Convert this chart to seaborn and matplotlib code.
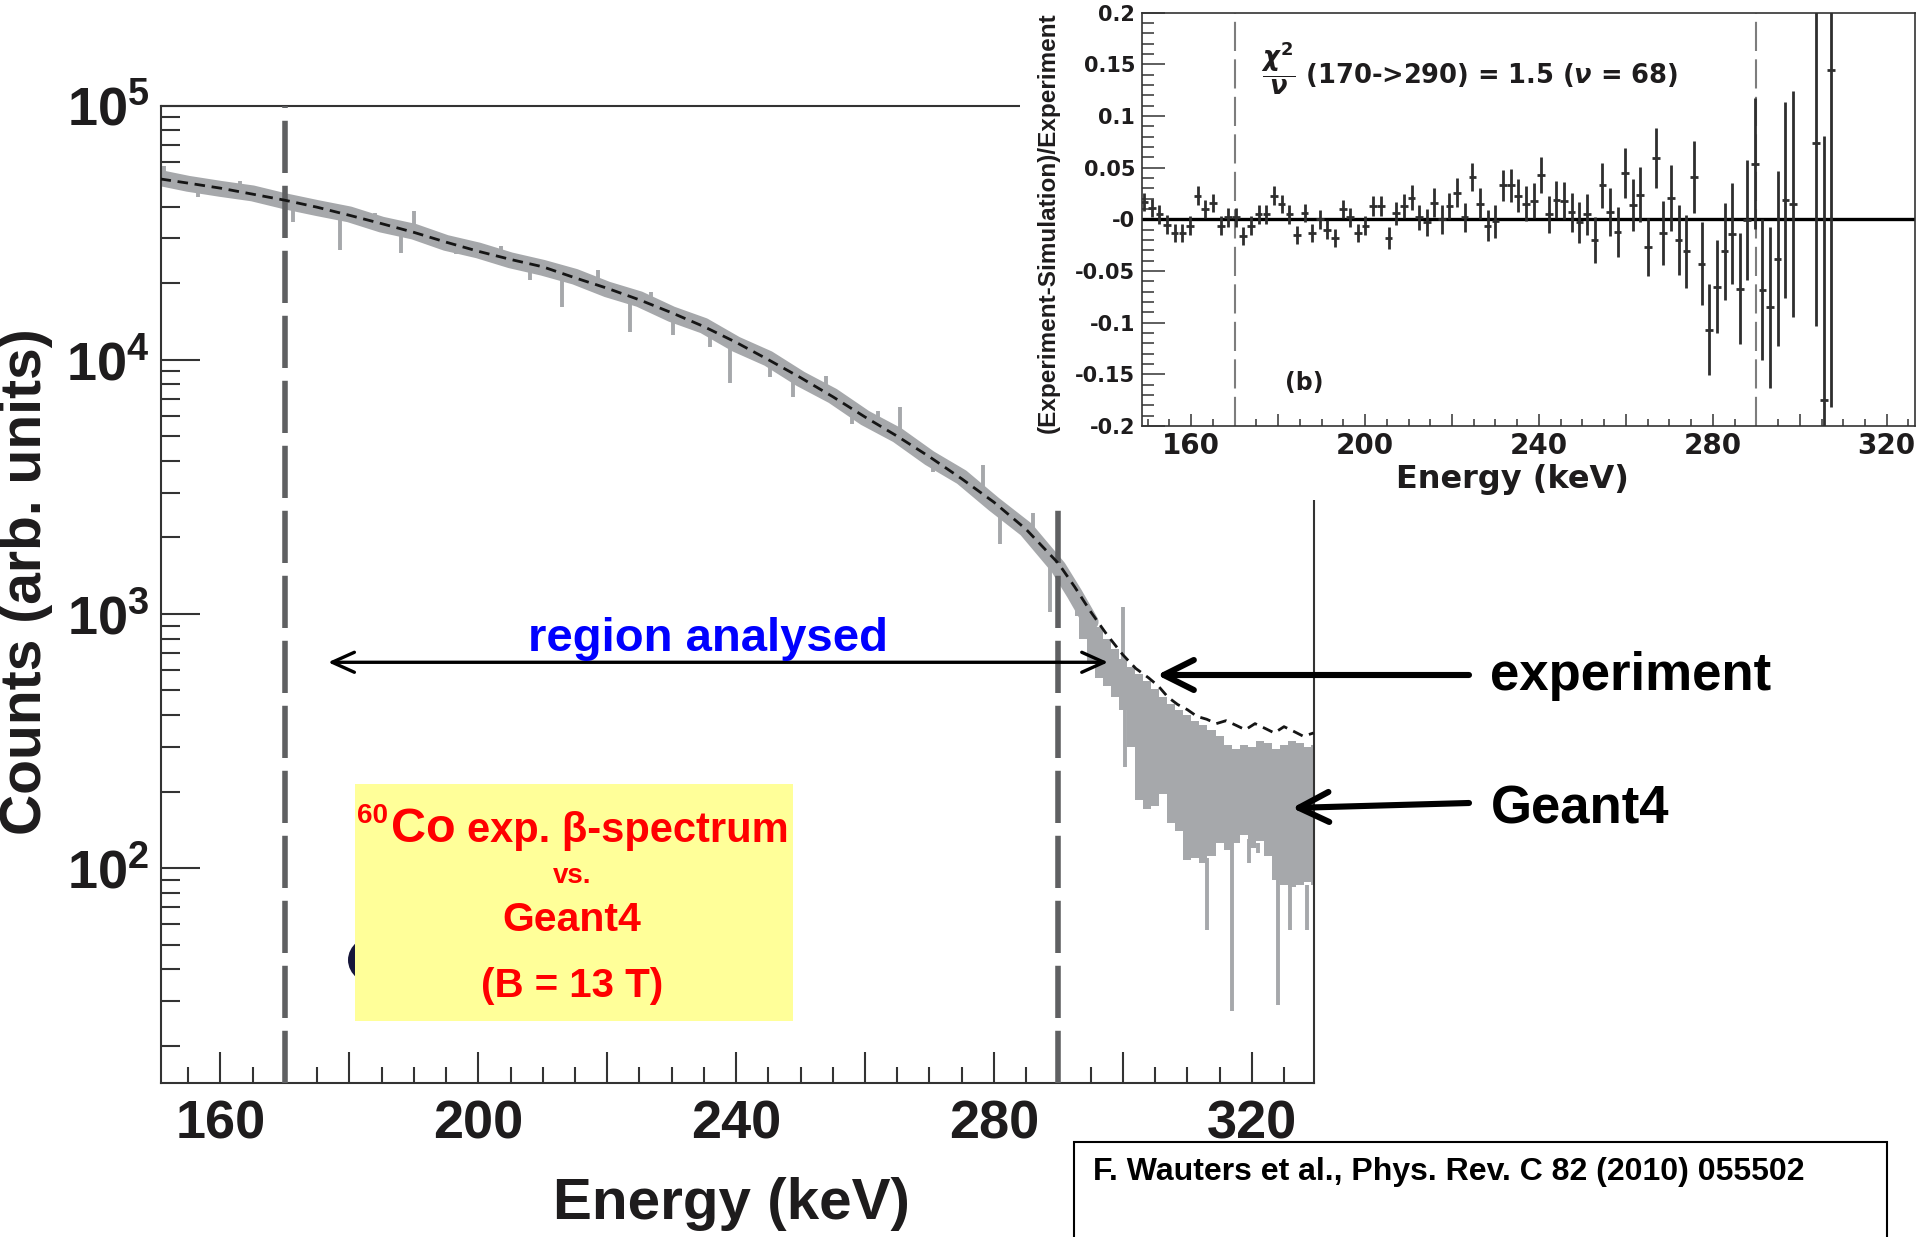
import numpy as np
import pandas as pd
import matplotlib
matplotlib.use("Agg")
import matplotlib.pyplot as plt
import seaborn as sns
from matplotlib import font_manager as fm
from matplotlib.ticker import (MultipleLocator, FixedLocator, FixedFormatter,
                               FuncFormatter, LogLocator, NullFormatter)
from matplotlib.patches import Rectangle, Ellipse, FancyArrowPatch

# ------------------------------------------------------------------ data
# experiment (black dashed) spectrum
exp_energy = [150.7, 155, 160, 165, 170, 175, 180, 185, 190, 195, 200, 205, 210,
              215, 220, 225, 230, 235, 240, 245, 250, 255, 260, 265, 270, 275,
              280, 285, 290, 292.5, 295, 297.5, 300, 302, 304, 305.5, 307, 308.5,
              310, 311.5, 313, 314.5, 316, 317.5, 319, 320.5, 322, 323.5, 325,
              326.5, 328, 329.6]
exp_counts = [51400, 49500, 47300, 44800, 42400, 39800, 37000, 34300, 31700, 29000,
              26700, 24800, 23200, 21000, 19100, 17200, 15300, 13500, 11700, 10000,
              8500, 7150, 5950, 5000, 4150, 3400, 2750, 2150, 1580, 1280, 1020, 830,
              690, 610, 560, 520, 470, 440, 420, 395, 385, 370, 380, 365, 350, 370,
              355, 340, 360, 345, 330, 340]

# Geant4 (grey) spectrum: main body
g4_energy = [150.7, 155, 160, 165, 170, 175, 180, 185, 190, 195, 200, 205, 210, 215,
             220, 225, 230, 235, 240, 245, 250, 255, 260, 265, 270, 275, 280, 285,
             290, 292.5, 295]
g4_counts = [51800, 49200, 47000, 45100, 42000, 39500, 37300, 34000, 31900, 28800,
             26900, 24600, 23000, 21200, 18900, 17300, 15100, 13600, 11500, 10100,
             8400, 7200, 5900, 5050, 4100, 3450, 2700, 2150, 1520, 1200, 930]
# Geant4 tail envelope
g4_tail_energy = [292.5, 293.75, 295, 296.25, 297.5, 298.75, 300, 301.25, 302.5,
                  303.75, 305, 306.25, 307.5, 308.75, 310, 311.25, 312.5, 313.75,
                  315, 316.25, 317.5, 318.75, 320, 321.25, 322.5, 323.75, 325,
                  326.25, 327.5, 328.75, 329.6]
g4_tail_high = [1240, 1120, 1000, 890, 800, 730, 665, 620, 580, 545, 505, 470, 440,
                420, 400, 380, 365, 350, 330, 305, 295, 305, 300, 315, 310, 295,
                305, 315, 310, 300, 305]
g4_tail_low = [980, 800, 640, 560, 520, 470, 420, 300, 185, 170, 175, 195, 150, 140,
               108, 110, 105, 112, 125, 118, 125, 135, 120, 128, 112, 90, 86, 84,
               86, 88, 86]
# Geant4 fluctuation spikes
g4_spike_energy = [151.2, 156.5, 163.0, 171.2, 178.6, 184.0, 188.0, 190.0, 196.5,
                   203.5, 208.0, 213.0, 218.5, 223.5, 226.8, 230.2, 236.0, 239.0,
                   245.3, 248.9, 254.0, 258.0, 262.0, 265.4, 270.5, 278.3, 280.9,
                   286.0, 288.7, 300.0, 300.3, 313.0, 317.0, 319.5, 321.0, 324.1,
                   326.0, 328.6]
g4_spike_from = [51000, 48500, 46000, 42000, 38000, 35000, 33000, 32000, 28500,
                 25000, 23500, 22000, 19800, 18000, 16500, 15000, 13300, 12000,
                 10000, 9000, 7500, 6500, 5500, 5000, 4300, 2950, 2600, 2000, 1700,
                 650, 420, 110, 125, 130, 125, 115, 88, 86]
g4_spike_to = [58000, 43500, 50500, 34900, 27000, 37800, 26200, 38500, 26000,
               28000, 20500, 16100, 22500, 12900, 18500, 12500, 11200, 8070, 8550,
               7150, 8600, 5600, 6300, 6510, 3600, 3850, 1890, 2500, 1016, 1065,
               250, 57, 27.5, 105, 115, 29, 57, 57]

region_limits = [170, 290]

# residuals (inset)
res_energy = [149.2, 151.0, 152.7, 154.5, 156.2, 158.0, 159.7, 161.5, 163.2, 165.0,
              166.8, 168.5, 170.3, 172.0, 173.8, 175.5, 177.3, 179.1, 180.8, 182.6,
              184.3, 186.1, 187.8, 189.6, 191.3, 193.1, 194.9, 196.6, 198.4, 200.1,
              201.9, 203.6, 205.4, 207.1, 208.9, 210.7, 212.4, 214.2, 215.9, 217.7,
              219.4, 221.2, 222.9, 224.7, 226.5, 228.2, 230.0, 231.7, 233.5, 235.2,
              237.0, 238.8, 240.5, 242.3, 244.0, 245.8, 247.5, 249.3, 251.0, 252.8,
              254.6, 256.3, 258.1, 259.8, 261.6, 263.3, 265.1, 266.9, 268.6, 270.4,
              272.1, 273.9, 275.6, 277.4, 279.1, 280.9, 282.7, 284.4, 286.2, 287.9,
              289.7, 291.4, 293.2, 294.9, 296.7, 298.5, 303.7, 305.5, 307.2]
res_value = [0.017, 0.011, 0.005, -0.005, -0.013, -0.013, -0.006, 0.023, 0.010, 0.016,
             -0.006, 0.002, 0.002, -0.016, -0.006, 0.005, 0.005, 0.023, 0.015, 0.005,
             -0.015, 0.006, -0.013, 0.000, -0.010, -0.018, 0.010, 0.002, -0.013, -0.006,
             0.013, 0.013, -0.018, 0.006, 0.013, 0.021, 0.002, -0.003, 0.016, 0.000,
             0.013, 0.026, 0.002, 0.041, 0.015, -0.006, -0.002, 0.033, 0.033, 0.023,
             0.015, 0.018, 0.043, 0.005, 0.019, 0.018, 0.007, -0.003, 0.005, -0.020,
             0.033, 0.007, -0.012, 0.045, 0.014, 0.024, -0.027, 0.059, -0.013, 0.021,
             -0.020, -0.031, 0.041, -0.043, -0.107, -0.065, -0.031, -0.014, -0.067,
             -0.001, 0.054, -0.068, -0.085, -0.038, 0.019, 0.015, 0.074, -0.175, 0.145]
res_error = [0.009, 0.009, 0.009, 0.009, 0.009, 0.009, 0.009, 0.009,
             0.009, 0.009, 0.009, 0.009, 0.009, 0.009, 0.009, 0.009, 0.009, 0.009,
             0.009, 0.009, 0.009, 0.009, 0.009, 0.009, 0.009, 0.009, 0.009, 0.009,
             0.009, 0.009, 0.010, 0.010, 0.011, 0.011, 0.012, 0.012, 0.012, 0.013,
             0.014, 0.014, 0.013, 0.014, 0.014, 0.014, 0.015, 0.015, 0.016, 0.015,
             0.016, 0.016, 0.017, 0.017, 0.017, 0.018, 0.018, 0.018, 0.019, 0.020,
             0.020, 0.022, 0.022, 0.023, 0.024, 0.024, 0.025, 0.027, 0.028, 0.029,
             0.031, 0.032, 0.034, 0.035, 0.035, 0.040, 0.044, 0.045, 0.047, 0.049,
             0.054, 0.058, 0.063, 0.068, 0.078, 0.085, 0.095, 0.109, 0.177, 0.256,
             0.327]
res_half_bin = 0.88

res_ytick_values = [-0.2, -0.15, -0.1, -0.05, 0.0, 0.05, 0.1, 0.15, 0.2]
res_ytick_labels = ["-0.2", "-0.15", "-0.1", "-0.05", "-0", "0.05", "0.1", "0.15", "0.2"]

citation = "F. Wauters et al., Phys. Rev. C 82 (2010) 055502"

# ------------------------------------------------------------------ style
sns.set_theme(style="white")
plt.rcParams["font.family"] = ["Liberation Sans", "DejaVu Sans"]
plt.rcParams["font.weight"] = "bold"
plt.rcParams["axes.labelweight"] = "bold"
plt.rcParams["mathtext.fontset"] = "custom"
plt.rcParams["mathtext.rm"] = "Liberation Sans:bold"
plt.rcParams["mathtext.bf"] = "Liberation Sans:bold"
plt.rcParams["mathtext.it"] = "Liberation Sans:bold"


def has_font(name):
    try:
        fm.findfont(fm.FontProperties(family=name), fallback_to_default=False)
        return True
    except Exception:
        return False


HAS_NARROW = has_font("Liberation Sans Narrow")

W, H = 1920, 1237


def fx(px):
    return px / W


def fy(py):
    return 1 - py / H


TXT = "#1e1c1d"
SPINE = "#333333"
GREY = "#a6a8ab"
VLINE = "#5f6062"

fig = plt.figure(figsize=(19.2, 12.37), dpi=100)
fig.patch.set_facecolor("white")

# ------------------------------------------------------------------ main axes
ax = fig.add_axes([0.0836, 0.1247, 0.6006, 0.79])
ax.set_facecolor("white")
ax.set_yscale("log")

g4_df = pd.DataFrame({"energy": g4_energy, "counts": g4_counts})
sns.lineplot(data=g4_df, x="energy", y="counts", ax=ax, color=GREY, linewidth=11.5,
             estimator=None, sort=False, legend=False)
ax.fill_between(g4_tail_energy, g4_tail_low, g4_tail_high, color=GREY, linewidth=0,
                step="mid")
ax.vlines(g4_spike_energy, g4_spike_from, g4_spike_to, color=GREY, linewidth=2.8)

for xv in region_limits:
    ax.axvline(xv, color=VLINE, linewidth=4, dashes=(9.4, 2.3), zorder=3)

exp_df = pd.DataFrame({"energy": exp_energy, "counts": exp_counts})
sns.lineplot(data=exp_df, x="energy", y="counts", ax=ax, color="#151515",
             linewidth=2.0, estimator=None, sort=False, legend=False, zorder=4)
ax.lines[-1].set_dashes((3.8, 2.4))

ax.set_xlim(150.7, 329.6)
ax.set_ylim(14.3, 1.0e5)

ax.xaxis.set_major_locator(MultipleLocator(20))
ax.xaxis.set_minor_locator(MultipleLocator(5))
ax.xaxis.set_major_formatter(FuncFormatter(
    lambda v, p: f"{int(round(v))}" if int(round(v)) % 40 == 0 else ""))
ax.yaxis.set_major_locator(LogLocator(base=10, numticks=10))
ax.yaxis.set_minor_locator(LogLocator(base=10, subs=np.arange(2, 10), numticks=30))
ax.yaxis.set_minor_formatter(NullFormatter())
ax.yaxis.set_major_formatter(FuncFormatter(
    lambda v, p: r"$\mathbf{10^{%d}}$" % int(round(np.log10(v)))))

ax.tick_params(axis="x", which="major", direction="in", length=22, width=1.5,
               color=SPINE, labelsize=39, pad=12, labelcolor=TXT,
               bottom=True, top=False)
ax.tick_params(axis="x", which="minor", direction="in", length=11.5, width=1.5,
               color=SPINE, bottom=True, top=False)
ax.tick_params(axis="y", which="major", direction="in", length=28, width=1.5,
               color=SPINE, labelsize=39, pad=8, labelcolor=TXT,
               left=True, right=False)
ax.tick_params(axis="y", which="minor", direction="in", length=14, width=1.5,
               color=SPINE, left=True, right=False)
for s in ax.spines.values():
    s.set_color(SPINE)
    s.set_linewidth(1.5)

ax.set_xlabel("Energy (keV)", fontsize=42, color=TXT, fontweight="bold")
ax.xaxis.set_label_coords((731 - 160.6) / 1153, (1082.7 - 1204) / 977.2)
ax.xaxis.label.set_verticalalignment("center")
ax.set_ylabel("Counts (arb. units)", fontsize=41, color=TXT, fontweight="bold")
ax.yaxis.set_label_coords((26 - 160.6) / 1153, (1082.7 - 582) / 977.2)
ax.yaxis.label.set_verticalalignment("center")

# region analysed arrow
ax.annotate("", xy=(176.7, 645), xytext=(297.7, 645),
            arrowprops=dict(arrowstyle="<->,head_length=0.8,head_width=0.36",
                            color="black", lw=2.4, mutation_scale=20,
                            shrinkA=0, shrinkB=0), zorder=6)
ax.text(235.6, 800, "region analysed", ha="center", va="center", color="#0000ff",
        fontsize=34, fontweight="bold", zorder=6)

# ------------------------------------------------------------------ overlays (figure level)
fig.add_artist(Rectangle((fx(1020), fy(500)), 1 - fx(1020), 500 / H,
                         transform=fig.transFigure, facecolor="white",
                         edgecolor="none", zorder=1))

fig.add_artist(Ellipse((fx(380), fy(960)), 64 / W, 52 / H, transform=fig.transFigure,
                       facecolor="#16163a", edgecolor="none", zorder=2))
fig.add_artist(Rectangle((fx(355), fy(1021)), (793 - 355) / W, (1021 - 784) / H,
                         transform=fig.transFigure, facecolor="#ffff99",
                         edgecolor="none", zorder=3))
RED = "#ff0000"
fig.text(fx(357), fy(823), "60", fontsize=20, color=RED, ha="left", va="baseline",
         fontweight="bold", zorder=4)
fig.text(fx(391), fy(842), "Co", fontsize=35, color=RED, ha="left", va="baseline",
         fontweight="bold", zorder=4)
fig.text(fx(467), fy(842), "exp. \u03b2-spectrum", fontsize=30, color=RED, ha="left",
         va="baseline", fontweight="bold", zorder=4)
fig.text(fx(572), fy(883), "vs.", fontsize=20, color=RED, ha="center", va="baseline",
         fontweight="bold", zorder=4)
fig.text(fx(572), fy(931), "Geant4", fontsize=29.5, color=RED, ha="center",
         va="baseline", fontweight="bold", zorder=4)
fig.text(fx(572), fy(997), "(B = 13 T)", fontsize=29, color=RED, ha="center",
         va="baseline", fontweight="bold", zorder=4)

# experiment / Geant4 arrows
fig.add_artist(FancyArrowPatch((fx(1469), fy(675)), (fx(1157), fy(675)),
                               transform=fig.transFigure,
                               arrowstyle="->,head_length=1.08,head_width=0.54",
                               mutation_scale=20, lw=4.4, color="black",
                               shrinkA=0, shrinkB=0, zorder=6))
fig.add_artist(FancyArrowPatch((fx(1469), fy(803)), (fx(1292), fy(808)),
                               transform=fig.transFigure,
                               arrowstyle="->,head_length=1.08,head_width=0.54",
                               mutation_scale=20, lw=4.4, color="black",
                               shrinkA=0, shrinkB=0, zorder=6))
fig.text(fx(1490), fy(676), "experiment", fontsize=38, color="black", ha="left",
         va="center", fontweight="bold", zorder=6)
fig.text(fx(1491), fy(809), "Geant4", fontsize=38, color="black", ha="left",
         va="center", fontweight="bold", zorder=6)

# citation box
fig.add_artist(Rectangle((fx(1074), -0.05), (1887 - 1074) / W, (1 - 1142 / H) + 0.05,
                         transform=fig.transFigure, facecolor="white",
                         edgecolor="black", linewidth=1.5, zorder=6))
if HAS_NARROW:
    fig.text(fx(1093), fy(1172), citation, fontsize=27.5,
             family=["Liberation Sans Narrow", "Liberation Sans"], color="black",
             ha="left", va="center", fontweight="bold", zorder=7)
else:
    fig.text(fx(1093), fy(1172), citation, fontsize=23, color="black",
             ha="left", va="center", fontweight="bold", zorder=7)

# ------------------------------------------------------------------ inset (residuals)
axin = fig.add_axes([0.5948, 0.6556, 0.4026, 0.3341])
axin.set_zorder(5)
axin.set_facecolor("white")
axin.axhline(0, color="black", linewidth=2.4, zorder=2)
for xv in region_limits:
    axin.axvline(xv, color="#7d7d7d", linewidth=1.5, dashes=(14, 4), zorder=1)
axin.errorbar(res_energy, res_value, yerr=res_error, xerr=res_half_bin, fmt="none",
              ecolor="#2e2e2e", elinewidth=2.0, capsize=0, zorder=3)
axin.set_xlim(148.7, 326.5)
axin.set_ylim(-0.2, 0.2)

axin.xaxis.set_major_locator(MultipleLocator(20))
axin.xaxis.set_minor_locator(MultipleLocator(5))
axin.xaxis.set_major_formatter(FuncFormatter(
    lambda v, p: f"{int(round(v))}" if int(round(v)) % 40 == 0 else ""))
axin.yaxis.set_major_locator(FixedLocator(res_ytick_values))
axin.yaxis.set_major_formatter(FixedFormatter(res_ytick_labels))
axin.yaxis.set_minor_locator(MultipleLocator(0.01))

axin.tick_params(axis="x", which="major", direction="in", length=8.6, width=1.1,
                 color=SPINE, labelsize=20, pad=4, labelcolor=TXT,
                 labelfontfamily="DejaVu Sans", bottom=True, top=False)
axin.tick_params(axis="x", which="minor", direction="in", length=4.7, width=1.1,
                 color=SPINE, bottom=True, top=False)
axin.tick_params(axis="y", which="major", direction="in", length=16.5, width=1.1,
                 color=SPINE, labelsize=15, pad=5, labelcolor=TXT,
                 labelfontfamily="DejaVu Sans", left=True, right=False)
axin.tick_params(axis="y", which="minor", direction="in", length=8.6, width=1.1,
                 color=SPINE, left=True, right=False)
for s in axin.spines.values():
    s.set_color(SPINE)
    s.set_linewidth(1.2)

axin.set_xlabel("Energy (keV)", fontsize=23, family="DejaVu Sans", color=TXT,
                fontweight="bold")
axin.xaxis.set_label_coords((1512 - 1142) / 773, (426 - 479) / 413.3)
axin.xaxis.label.set_verticalalignment("center")
axin.set_ylabel("(Experiment-Simulation)/Experiment", fontsize=17.5,
                family="Liberation Sans", color=TXT, fontweight="bold")
axin.yaxis.set_label_coords((1048 - 1142) / 773, (426 - 223) / 413.3)
axin.yaxis.label.set_verticalalignment("center")

axin.text((1261 - 1142) / 773, (426 - 68) / 413.3,
          r"$\dfrac{\chi^2}{\nu}$ (170->290) = 1.5 ($\nu$ = 68)",
          transform=axin.transAxes, fontsize=18.5, family="DejaVu Sans",
          math_fontfamily="dejavusans", ha="left", va="center", color=TXT)
axin.text((1304 - 1142) / 773, (426 - 383) / 413.3, "(b)", transform=axin.transAxes,
          fontsize=17, family="DejaVu Sans", ha="center", va="center", color=TXT)

fig.savefig("out.png", dpi=100)
